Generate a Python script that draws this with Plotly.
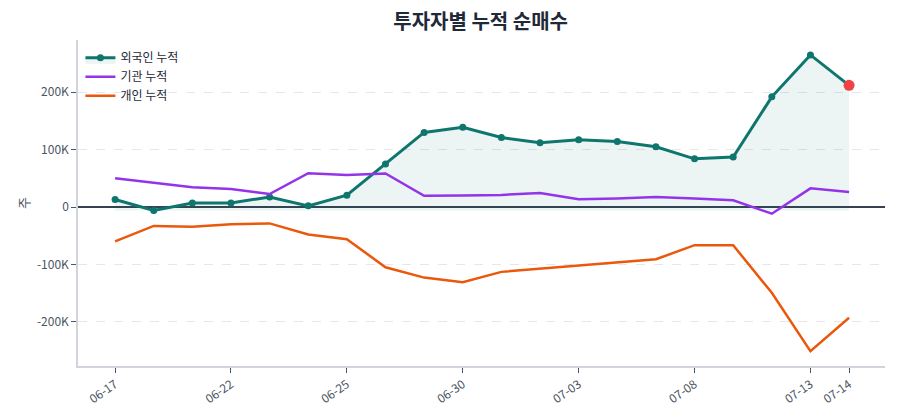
import plotly.graph_objects as go

dates = ["06-17", "06-18", "06-19", "06-22", "06-23", "06-24", "06-25", "06-26", "06-29", "06-30",
         "07-01", "07-02", "07-03", "07-06", "07-07", "07-08", "07-09", "07-10", "07-13", "07-14"]
foreign = [13000, -6000, 7000, 7000, 17500, 2000, 20500, 75000, 130000, 139000,
           121000, 112000, 117000, 114000, 105000, 84000, 87000, 192000, 265000, 212000]
institution = [50000, 42500, 34500, 31500, 22700, 59000, 56000, 58500, 19700, 20000,
               21000, 24500, 13400, 15000, 17500, 15000, 11600, -11600, 32500, 26000]
individual = [-60000, -33000, -34500, -30000, -28500, -48000, -56000, -105000, -123000, -131000,
              -113000, -107500, -102000, -97000, -91000, -66500, -66500, -149500, -251000, -193000]
tick_labels = ["06-17", "06-22", "06-25", "06-30", "07-03", "07-08", "07-13", "07-14"]
y_ticks = [-200000, -100000, 0, 100000, 200000]
y_tick_text = ["-200K", "-100K", "0", "100K", "200K"]

idx = list(range(len(dates)))
tick_idx = [dates.index(t) for t in tick_labels]
base = min(foreign)

FONT = "Noto Sans CJK KR"
fig = go.Figure()

fig.add_trace(go.Scatter(x=idx, y=[base] * len(idx), mode="lines",
                         line=dict(width=0, color="rgba(0,0,0,0)"),
                         showlegend=False, hoverinfo="skip"))
fig.add_trace(go.Scatter(x=idx, y=foreign, mode="lines+markers", name="외국인 누적",
                         fill="tonexty", fillcolor="rgba(15,118,110,0.08)",
                         line=dict(color="#0f766e", width=3),
                         marker=dict(size=7, color="#0f766e")))
fig.add_trace(go.Scatter(x=idx, y=institution, mode="lines", name="기관 누적",
                         line=dict(color="#9333ea", width=2.5)))
fig.add_trace(go.Scatter(x=idx, y=individual, mode="lines", name="개인 누적",
                         line=dict(color="#ea580c", width=2.5)))
fig.add_trace(go.Scatter(x=[idx[-1]], y=[foreign[-1]], mode="markers",
                         marker=dict(size=11, color="#ef4444"), showlegend=False))

fig.update_layout(
    width=900, height=420,
    margin=dict(l=78, r=15, t=40, b=54),
    paper_bgcolor="white", plot_bgcolor="white",
    font=dict(family=FONT, size=12, color="#4b5563"),
    title=dict(text="<b>투자자별 누적 순매수</b>", x=0.534, xanchor="center",
               yref="container", y=1 - 22 / 420, yanchor="middle",
               font=dict(family=FONT, size=20, color="#1f2937")),
    legend=dict(x=0.003, y=0.99, xanchor="left", yanchor="top", bgcolor="rgba(255,255,255,0)",
                traceorder="normal",
                font=dict(family=FONT, size=12, color="#1f2937"), tracegroupgap=0),
    showlegend=True,
)
fig.update_xaxes(range=[-0.96, 19.93], tickmode="array", tickvals=tick_idx, ticktext=tick_labels,
                 tickangle=-35, showgrid=False, zeroline=False, showline=True, linecolor="#d1d5db",
                 linewidth=1.5, ticks="outside", ticklen=5, tickcolor="#4b5563",
                 tickfont=dict(size=12, color="#4b5563"))
fig.update_yaxes(range=[-277000, 291000], tickmode="array", tickvals=y_ticks, ticktext=y_tick_text,
                 showgrid=True, gridcolor="#e5e7eb", griddash="dash", gridwidth=1,
                 zeroline=True, zerolinecolor="#374151", zerolinewidth=1.5,
                 showline=True, linecolor="#d1d5db", linewidth=1.5,
                 ticks="outside", ticklen=5, tickcolor="#4b5563",
                 title=dict(text="주", font=dict(size=13, color="#4b5563"), standoff=4),
                 tickfont=dict(size=12, color="#4b5563"))

fig.write_html("out.html")
